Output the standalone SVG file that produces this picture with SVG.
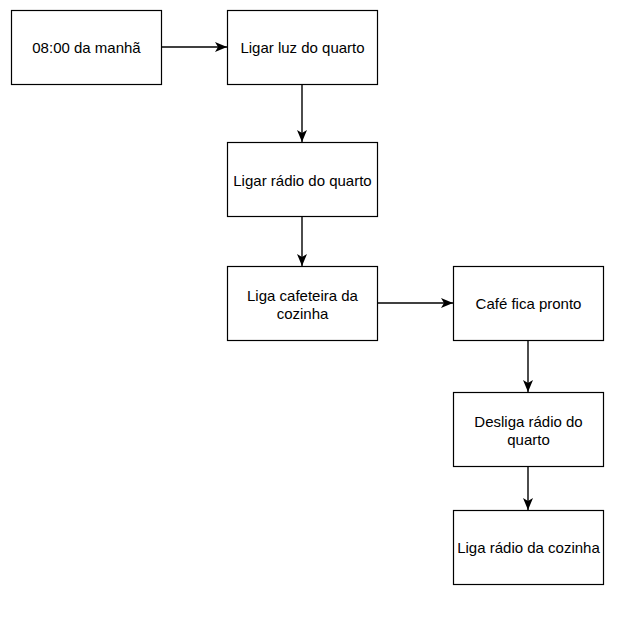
<svg xmlns="http://www.w3.org/2000/svg" width="625" height="622" viewBox="0 0 625 622">
<style>
.box{fill:#fff;stroke:#000;stroke-width:1.2}
.lbl{font-family:"Liberation Sans",Arial,sans-serif;font-size:15px;fill:#000;text-anchor:middle;dominant-baseline:central}
.edge{stroke:#000;stroke-width:1.4;fill:none;marker-end:url(#arr)}
</style>
<defs>
<marker id="arr" markerUnits="userSpaceOnUse" markerWidth="14" markerHeight="14" viewBox="0 0 14 14" refX="12" refY="7" orient="auto">
<path d="M0,2 L12,7 L0,12 L3,7 Z" fill="#000"/>
</marker>
</defs>
<rect width="625" height="622" fill="#fff"/>
<g id="connectors">
<path class="edge" d="M161.5,47 L227,47"/>
<path class="edge" d="M302,84.5 L302,142"/>
<path class="edge" d="M302,216.5 L302,266"/>
<path class="edge" d="M377.5,303 L453,303"/>
<path class="edge" d="M528,340.5 L528,392"/>
<path class="edge" d="M528,466.5 L528,510"/>
</g>
<g id="n1"><rect class="box" x="11.5" y="10.5" width="150" height="74"/><text class="lbl" x="86.5" y="47">08:00 da manhã</text></g>
<g id="n2"><rect class="box" x="227.5" y="10.5" width="150" height="74"/><text class="lbl" x="302.5" y="47">Ligar luz do quarto</text></g>
<g id="n3"><rect class="box" x="227.5" y="142.5" width="150" height="74"/><text class="lbl" x="302.5" y="180">Ligar rádio do quarto</text></g>
<g id="n4"><rect class="box" x="227.5" y="266.5" width="150" height="74"/><text class="lbl" x="302.5" y="295">Liga cafeteira da</text><text class="lbl" x="302.5" y="313">cozinha</text></g>
<g id="n5"><rect class="box" x="453.5" y="266.5" width="150" height="74"/><text class="lbl" x="528.5" y="303">Café fica pronto</text></g>
<g id="n6"><rect class="box" x="453.5" y="392.5" width="150" height="74"/><text class="lbl" x="528.5" y="421">Desliga rádio do</text><text class="lbl" x="528.5" y="439">quarto</text></g>
<g id="n7"><rect class="box" x="453.5" y="510.5" width="150" height="74"/><text class="lbl" x="528.5" y="547">Liga rádio da cozinha</text></g>
</svg>
